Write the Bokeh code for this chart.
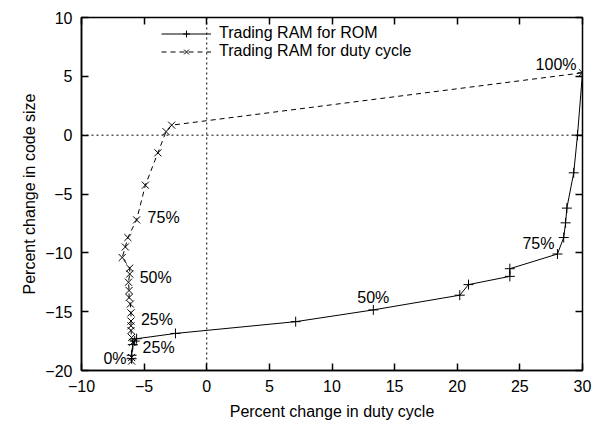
from bokeh.plotting import figure
from bokeh.models import (Range1d, LinearAxis, FixedTicker, Span, Legend, LegendItem,
                          ColumnDataSource, CustomLabelingPolicy)
from bokeh.core.properties import value
from bokeh.embed import file_html
from bokeh.resources import INLINE

# ---- data ----
rom_x = [-6.0, -6.0, -5.9, -5.75, -5.6, -2.5, 7.1, 13.3, 20.2, 20.9, 24.2, 24.2,
         28.0, 28.5, 28.65, 28.75, 29.3, 29.6, 30.0]
rom_y = [-19.0, -18.7, -17.8, -17.5, -17.3, -16.85, -15.85, -14.85, -13.6, -12.7,
         -12.0, -11.35, -10.1, -8.7, -7.45, -6.2, -3.2, 0.0, 5.3]

duty_x = [-6.0, -6.0, -5.9, -6.0, -6.05, -6.05, -6.05, -6.05, -6.1, -6.2, -6.2,
          -6.25, -6.15, -6.15, -6.75, -6.5, -6.3, -5.6, -4.9, -3.9, -3.25, -2.8, 30.0]
duty_y = [-19.2, -18.9, -17.6, -17.2, -16.6, -16.2, -15.8, -15.1, -14.35, -13.8,
          -13.2, -12.5, -11.8, -11.3, -10.4, -9.5, -8.7, -7.2, -4.25, -1.5, 0.3,
          0.85, 5.3]

rom_label_idx = [0, 4, 7, 12, 18]
rom_label_txt = ["0%", "25%", "50%", "75%", "100%"]
duty_label_idx = [5, 12, 17]
duty_label_txt = ["25%", "50%", "75%"]

x_ticks = [-10, -5, 0, 5, 10, 15, 20, 25, 30]
y_ticks = [-20, -15, -10, -5, 0, 5, 10]

FONT = "Liberation Sans"
FS = "16px"

p = figure(width=607, height=422, frame_width=501, frame_height=353,
           min_border_left=81, min_border_right=25, min_border_top=17,
           min_border_bottom=52,
           x_range=Range1d(-10, 30), y_range=Range1d(-20, 10),
           output_backend="svg", toolbar_location=None, tools="")
p.grid.visible = False
p.outline_line_color = "black"
p.outline_line_width = 1.5
p.background_fill_color = "white"
p.border_fill_color = "white"

for ax, ticks in ((p.xaxis[0], x_ticks), (p.yaxis[0], y_ticks)):
    ax.ticker = FixedTicker(ticks=ticks)
    ax.major_tick_in = 7
    ax.major_tick_out = 0
    ax.minor_tick_line_color = None
    ax.axis_line_width = 1.5
    ax.major_tick_line_width = 1.5
    ax.major_label_text_font = FONT
    ax.major_label_text_font_size = FS
    ax.major_label_text_color = "black"
    ax.axis_label_text_font = FONT
    ax.axis_label_text_font_size = FS
    ax.axis_label_text_font_style = "normal"
    ax.axis_label_text_color = "black"

p.xaxis.axis_label = "Percent change in duty cycle"
p.yaxis.axis_label = "Percent change in code size"
p.xaxis.major_label_standoff = 9
p.yaxis.major_label_standoff = 9
p.xaxis.axis_label_standoff = 8
p.yaxis.axis_label_standoff = 4

# mirrored ticks (labels suppressed by a labeling policy)
hide_labels = CustomLabelingPolicy(code="""
    for (const i of Array.from(indices)) { indices.unset(i) }
    return indices
""")
for side, ticks in (("right", y_ticks), ("above", x_ticks)):
    ax = LinearAxis(ticker=FixedTicker(ticks=ticks))
    ax.major_tick_in = 7
    ax.major_tick_out = 0
    ax.major_tick_line_width = 1.5
    ax.minor_tick_line_color = None
    ax.axis_line_color = None
    ax.major_label_policy = hide_labels
    ax.major_label_standoff = 0
    p.add_layout(ax, side)

# zero lines
p.add_layout(Span(location=0, dimension="height", line_color="black",
                  line_dash="2 3", line_width=1))
p.add_layout(Span(location=0, dimension="width", line_color="black",
                  line_dash="2 3", line_width=1))

rom_line = p.line(rom_x, rom_y, line_color="black", line_width=1)
rom_mark = p.scatter(rom_x, rom_y, marker="cross", size=10, line_color="black",
                     line_width=1)
duty_line = p.line(duty_x, duty_y, line_color="black", line_width=1,
                   line_dash="5 4")
duty_mark = p.scatter(duty_x, duty_y, marker="x", size=10, line_color="black",
                      line_width=1)

# percentage labels anchored to data points
rom_src = ColumnDataSource(dict(
    x=[rom_x[i] for i in rom_label_idx],
    y=[rom_y[i] for i in rom_label_idx],
    t=rom_label_txt,
    xo=[-5, 6, 0, -3, -6],
    yo=[0, 9, -12, -11, -8],
    al=["right", "left", "center", "right", "right"],
))
p.text(x="x", y="y", text="t", x_offset="xo", y_offset="yo", text_align="al",
       text_baseline="middle", text_font=value(FONT), text_font_size=FS,
       text_color="black", source=rom_src)

duty_src = ColumnDataSource(dict(
    x=[duty_x[i] for i in duty_label_idx],
    y=[duty_y[i] for i in duty_label_idx],
    t=duty_label_txt,
    xo=[10, 10, 11],
    yo=[-6, 3, -2],
))
p.text(x="x", y="y", text="t", x_offset="xo", y_offset="yo", text_align="left",
       text_baseline="middle", text_font=value(FONT), text_font_size=FS,
       text_color="black", source=duty_src)

legend = Legend(items=[
    LegendItem(label="Trading RAM for ROM", renderers=[rom_line, rom_mark]),
    LegendItem(label="Trading RAM for duty cycle", renderers=[duty_line, duty_mark]),
], location=(80, 310))
legend.background_fill_alpha = 0
legend.border_line_color = None
legend.padding = 0
legend.spacing = 0
legend.margin = 0
legend.glyph_width = 50
legend.glyph_height = 17
legend.label_height = 17
legend.label_standoff = 8
legend.label_text_font = FONT
legend.label_text_font_size = FS
legend.label_text_color = "black"
p.add_layout(legend, "center")

open("out.html", "w").write(file_html(p, INLINE))
